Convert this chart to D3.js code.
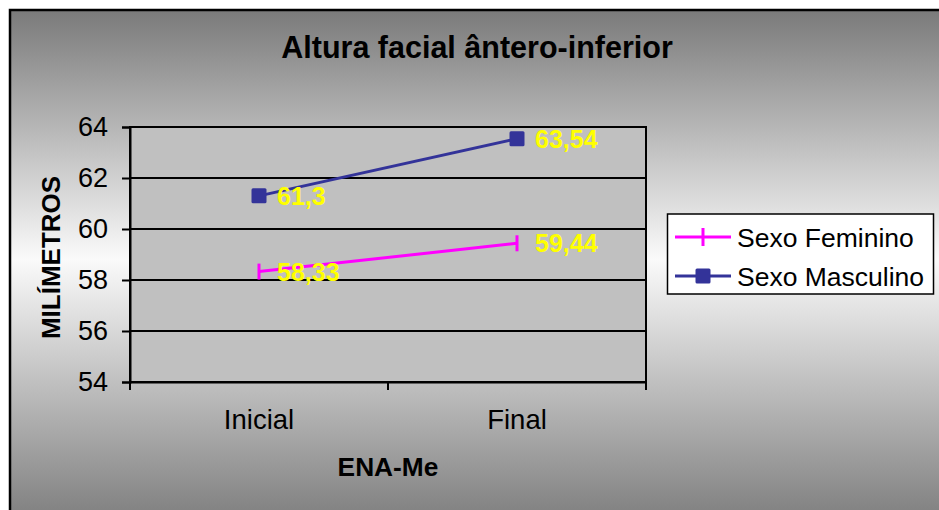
<!DOCTYPE html>
<html>
<head>
<meta charset="utf-8">
<script src="https://cdn.jsdelivr.net/npm/d3@7"></script>
<style>
  html, body { margin: 0; padding: 0; background: #ffffff; }
  svg { display: block; }
  text { font-family: "Liberation Sans", Arial, sans-serif; }
</style>
</head>
<body>
<svg id="chart" width="939" height="510"></svg>
<script>
// ---- Data ----
const title = "Altura facial ântero-inferior";
const categories = ["Inicial", "Final"];
const seriesNames = ["Sexo Feminino", "Sexo Masculino"];
const feminino = [58.33, 59.44];
const masculino = [61.3, 63.54];
const valueLabelsF = ["58,33", "59,44"];
const valueLabelsM = ["61,3", "63,54"];
const yTicks = [54, 56, 58, 60, 62, 64];
const yAxisTitle = "MILÍMETROS";
const xAxisTitle = "ENA-Me";

const colors = { fem: "#FF00FF", masc: "#333399", label: "#FFFF00" };

// ---- Layout ----
const W = 939, H = 510;
const plot = { left: 130, right: 646, top: 127, bottom: 382 };

const svg = d3.select("#chart");

// background gradient
const defs = svg.append("defs");
const grad = defs.append("linearGradient")
  .attr("id", "bg").attr("x1", 0).attr("y1", 0).attr("x2", 0).attr("y2", 1);
grad.append("stop").attr("offset", "0%").attr("stop-color", "#7a7a7a");
grad.append("stop").attr("offset", "48%").attr("stop-color", "#fafafa");
grad.append("stop").attr("offset", "100%").attr("stop-color", "#7a7a7a");

svg.append("rect").attr("x", 10).attr("y", 10).attr("width", W + 10).attr("height", H + 10)
  .attr("fill", "url(#bg)").attr("stroke", "#000").attr("stroke-width", 2.5);

// title
svg.append("text").attr("x", 477).attr("y", 58).attr("text-anchor", "middle")
  .attr("font-size", 30.5).attr("font-weight", "bold").attr("fill", "#000").text(title);

// scales
const x = d3.scaleBand().domain(categories).range([plot.left, plot.right]);
const y = d3.scaleLinear().domain([54, 64]).range([plot.bottom, plot.top]);

// plot area
svg.append("rect").attr("x", plot.left).attr("y", plot.top)
  .attr("width", plot.right - plot.left).attr("height", plot.bottom - plot.top)
  .attr("fill", "#C0C0C0").attr("stroke", "#000").attr("stroke-width", 2);

// gridlines
svg.append("g").selectAll("line").data(yTicks.slice(1)).join("line")
  .attr("x1", plot.left).attr("x2", plot.right)
  .attr("y1", d => y(d)).attr("y2", d => y(d))
  .attr("stroke", "#000").attr("stroke-width", 2);

// y axis
const yAxis = svg.append("g").attr("transform", `translate(${plot.left},0)`)
  .call(d3.axisLeft(y).tickValues(yTicks).tickSize(8).tickPadding(14).tickFormat(d3.format("d")));
yAxis.select(".domain").attr("stroke", "#000").attr("stroke-width", 2);
yAxis.selectAll(".tick line").attr("stroke", "#000").attr("stroke-width", 2);
yAxis.selectAll(".tick text").attr("font-size", 27).attr("fill", "#000")
  .attr("font-family", "'Liberation Sans', Arial, sans-serif");

// x axis
const xAxis = svg.append("g").attr("transform", `translate(0,${plot.bottom})`)
  .call(d3.axisBottom(x).tickSize(0).tickPadding(27));
xAxis.select(".domain").attr("stroke", "#000").attr("stroke-width", 2);
xAxis.selectAll(".tick text").attr("font-size", 27.5).attr("fill", "#000")
  .attr("font-family", "'Liberation Sans', Arial, sans-serif");
// boundary ticks between categories
const bounds = [plot.left, plot.left + x.bandwidth(), plot.right];
svg.append("g").selectAll("line").data(bounds).join("line")
  .attr("x1", d => d).attr("x2", d => d)
  .attr("y1", plot.bottom).attr("y2", plot.bottom + 8)
  .attr("stroke", "#000").attr("stroke-width", 2);

// axis titles
svg.append("text").attr("transform", `translate(60,${(plot.top + plot.bottom) / 2 + 3}) rotate(-90)`)
  .attr("text-anchor", "middle").attr("font-size", 26).attr("font-weight", "bold").text(yAxisTitle);
svg.append("text").attr("x", 388).attr("y", 476).attr("text-anchor", "middle")
  .attr("font-size", 26.3).attr("font-weight", "bold").text(xAxisTitle);

// series lines
const cx = c => x(c) + x.bandwidth() / 2;
const line = d3.line().x(d => cx(d.c)).y(d => y(d.v));
const femData = categories.map((c, i) => ({ c, v: feminino[i], l: valueLabelsF[i] }));
const mascData = categories.map((c, i) => ({ c, v: masculino[i], l: valueLabelsM[i] }));

svg.append("path").datum(femData).attr("d", line).attr("fill", "none")
  .attr("stroke", colors.fem).attr("stroke-width", 3);
svg.append("path").datum(mascData).attr("d", line).attr("fill", "none")
  .attr("stroke", colors.masc).attr("stroke-width", 3);

// markers
svg.append("g").selectAll("line").data(femData).join("line")
  .attr("x1", d => cx(d.c)).attr("x2", d => cx(d.c))
  .attr("y1", d => y(d.v) - 8).attr("y2", d => y(d.v) + 8)
  .attr("stroke", colors.fem).attr("stroke-width", 3);
svg.append("g").selectAll("rect").data(mascData).join("rect")
  .attr("x", d => cx(d.c) - 7.5).attr("y", d => y(d.v) - 7.5)
  .attr("width", 15).attr("height", 15).attr("rx", 1.5)
  .attr("fill", colors.masc);

// data labels
const allLabels = femData.concat(mascData);
svg.append("g").selectAll("text").data(allLabels).join("text")
  .attr("x", d => cx(d.c) + 18).attr("y", d => y(d.v) + 9)
  .attr("font-size", 25).attr("font-weight", "bold").attr("fill", colors.label)
  .text(d => d.l);

// legend
const lg = svg.append("g");
lg.append("rect").attr("x", 667.5).attr("y", 214).attr("width", 266).attr("height", 80)
  .attr("fill", "#ffffff").attr("stroke", "#000").attr("stroke-width", 1.5);
const legendRows = [
  { name: seriesNames[0], color: colors.fem, y: 237, type: "bar" },
  { name: seriesNames[1], color: colors.masc, y: 276, type: "square" }
];
legendRows.forEach(r => {
  lg.append("line").attr("x1", 675).attr("x2", 731).attr("y1", r.y).attr("y2", r.y)
    .attr("stroke", r.color).attr("stroke-width", 3);
  if (r.type === "bar") {
    lg.append("line").attr("x1", 703).attr("x2", 703).attr("y1", r.y - 9).attr("y2", r.y + 9)
      .attr("stroke", r.color).attr("stroke-width", 3);
  } else {
    lg.append("rect").attr("x", 695.5).attr("y", r.y - 7.5).attr("width", 15).attr("height", 15)
      .attr("rx", 1.5).attr("fill", r.color);
  }
  lg.append("text").attr("x", 737).attr("y", r.y + 9.5).attr("font-size", 26.5).attr("fill", "#000").text(r.name);
});
</script>
</body>
</html>
